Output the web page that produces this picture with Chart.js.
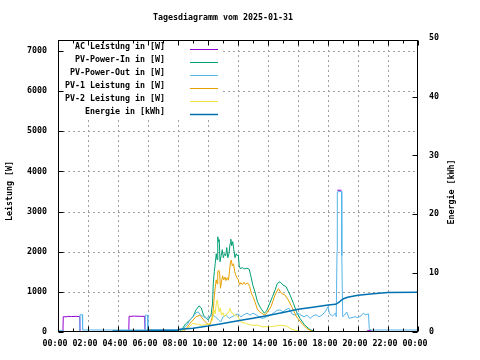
<!DOCTYPE html>
<html><head><meta charset="utf-8">
<script src="https://cdn.jsdelivr.net/npm/chart.js@4/dist/chart.umd.min.js"></script>
<style>html,body{margin:0;padding:0;background:#fff}canvas{display:block}</style>
</head><body>
<canvas id="c" width="480" height="360" style="width:480px;height:360px"></canvas>
<script>
// ---- texts ----
const chartTitle = 'Tagesdiagramm vom 2025-01-31';
const yTitle = 'Leistung [W]';
const y2Title = 'Energie [kWh]';
const seriesLabels = ['AC Leistung in [W]','PV-Power-In in [W]','PV-Power-Out in [W]','PV-1 Leistung in [W]','PV-2 Leistung in [W]','Energie in [kWh]'];
const seriesColors = ['#9400D3','#009E73','#56B4E9','#E69F00','#F0E442','#0072B2'];

// ---- ticks ----
const xTickHours = [0,2,4,6,8,10,12,14,16,18,20,22,24];
const xMinorHours = [1,3,5,7,9,11,13,15,17,19,21,23];
const yTickValues = [0,1000,2000,3000,4000,5000,6000,7000];
const y2TickValues = [0,10,20,30,40,50];

// ---- data (time in hours); AC is null where it lies under PV-Power-Out ----
const acTimes  = [0,0.33,0.35,0.6,0.62,0.9,1.2,1.45,1.47,1.5,4.7,4.72,4.74,5.1,5.5,5.78,5.8,5.83,18.6,18.62,18.9,18.92,20.6,20.62,20.9,20.92];
const acValues = [null,0,380,380,390,385,390,385,0,null,null,40,390,395,390,390,40,null,null,3530,3530,null,null,40,40,null];

const outTimes  = [0,0.33,0.35,1.45,1.47,1.62,1.64,5.8,5.82,5.97,5.99,7.95,8.0,8.2,8.4,8.6,8.8,9.0,9.2,9.35,9.5,9.7,9.9,10.1,10.3,10.5,10.7,10.85,11.0,11.2,11.4,11.6,11.8,12.0,12.2,12.4,12.6,12.8,13.0,13.2,13.4,13.6,13.8,14.0,14.2,14.4,14.6,14.8,15.0,15.2,15.4,15.6,15.8,16.0,16.2,16.4,16.6,16.8,17.0,17.2,17.4,17.6,17.8,18.0,18.1,18.3,18.5,18.55,18.6,18.62,18.9,18.92,18.98,19.1,19.25,19.4,19.6,19.8,20.0,20.2,20.35,20.5,20.7,20.75,20.8,24];
const outValues = [40,40,0,0,430,430,50,50,420,420,50,50,0,0,100,170,300,380,480,500,420,380,340,380,420,380,300,250,380,420,340,380,420,450,380,430,470,420,470,430,380,340,360,400,430,480,540,550,500,560,590,450,420,470,420,380,420,340,400,430,380,420,500,630,450,400,470,380,2000,3490,3500,1900,380,420,500,340,360,380,360,400,470,430,450,90,50,50];

const inTimes  = [0,8.1,8.3,8.5,8.8,9.0,9.2,9.4,9.55,9.7,9.85,10.0,10.2,10.3,10.35,10.42,10.48,10.55,10.6,10.65,10.7,10.75,10.8,10.88,10.95,11.02,11.1,11.18,11.25,11.32,11.4,11.47,11.52,11.58,11.65,11.72,11.8,11.88,11.95,12.02,12.08,12.15,12.3,12.45,12.6,12.75,12.85,13.0,13.13,13.3,13.5,13.75,13.9,14.1,14.3,14.47,14.62,14.8,15.0,15.2,15.47,15.7,15.9,16.13,16.45,16.8,17.2,24];
const inValues = [0,0,90,200,300,380,550,650,600,420,360,300,420,700,1200,1500,1700,1950,1800,2370,2250,2300,1750,1900,2050,1850,1950,1900,2100,1850,1950,2200,2310,2150,2250,2050,1850,1950,1900,1920,1650,1580,1600,1570,1590,1560,1400,1150,1000,750,600,470,520,700,880,1040,1210,1250,1170,1130,920,710,500,340,170,60,0,0];

const pv1Times  = [0,8.3,8.5,8.8,9.2,9.47,9.6,9.8,10.0,10.13,10.3,10.36,10.42,10.5,10.55,10.6,10.65,10.72,10.78,10.83,10.9,10.97,11.05,11.13,11.2,11.28,11.36,11.43,11.5,11.55,11.62,11.7,11.78,11.85,11.93,12.02,12.1,12.2,12.3,12.4,12.5,12.6,12.7,12.78,12.9,13.0,13.13,13.3,13.55,13.8,14.0,14.2,14.47,14.69,14.9,15.13,15.35,15.58,15.9,16.25,16.58,17.02,24];
const pv1Values = [0,0,60,215,380,420,350,255,190,170,400,590,900,1170,1300,1200,1500,1540,1450,1090,1250,1400,1300,1370,1280,1350,1290,1500,1750,1790,1650,1700,1500,1420,1350,1300,1170,1230,1180,1240,1180,1220,1200,1130,950,880,750,560,470,420,520,630,920,1080,960,920,800,630,380,215,90,0,0];

const pv2Times  = [0,8.13,8.4,8.6,8.8,9.0,9.3,9.6,10.0,10.13,10.3,10.4,10.48,10.55,10.62,10.68,10.75,10.82,10.9,11.0,11.1,11.2,11.3,11.4,11.47,11.55,11.65,11.75,11.85,12.0,12.1,12.2,12.5,12.9,13.3,13.6,14.1,14.5,14.8,15.2,15.6,16.0,16.4,24];
const pv2Values = [0,0,50,90,150,215,190,170,190,215,300,550,450,700,800,650,500,600,420,480,380,430,450,520,590,480,470,400,430,380,300,255,215,170,170,130,130,150,170,150,65,25,0,0];

const energyTimes  = [0,1.47,3.67,3.69,5.93,5.95,7.95,8.13,9.0,10.0,11.0,12.0,13.0,14.0,15.0,16.0,17.0,18.0,18.5,18.7,19.0,19.3,20.0,21.0,22.0,24];
const energyValues = [0,0,0,0.15,0.15,0.3,0.3,0.45,0.65,1.0,1.45,1.9,2.35,2.8,3.3,3.85,4.2,4.6,4.7,5.0,5.6,5.9,6.25,6.5,6.7,6.75];

const FAMILY = '"DejaVu Sans Mono", "Liberation Mono", monospace';
const FONT = 'bold 8.3px ' + FAMILY;
const TICKFONT = {family: FAMILY, size: 8.3, weight: 'bold'};
const pts = (t, v) => t.map((h, i) => ({x: h, y: v[i]}));
const pad2 = n => (n < 10 ? '0' : '') + n;

const series = [
  {t: acTimes, v: acValues, axis: 'y', w: 1},
  {t: inTimes, v: inValues, axis: 'y', w: 1},
  {t: outTimes, v: outValues, axis: 'y', w: 1},
  {t: pv1Times, v: pv1Values, axis: 'y', w: 1},
  {t: pv2Times, v: pv2Values, axis: 'y', w: 1},
  {t: energyTimes, v: energyValues, axis: 'y2', w: 1.5}
];

const decor = {
  id: 'decor',
  beforeDatasetsDraw(chart) {
    const {ctx, chartArea: a, scales: {x, y}} = chart;
    ctx.save();
    ctx.strokeStyle = '#a0a0a0'; ctx.lineWidth = 1; ctx.setLineDash([2, 3]);
    xTickHours.slice(1, -1).forEach(h => {
      const px = Math.round(x.getPixelForValue(h)) + 0.5;
      ctx.beginPath(); ctx.moveTo(px, a.top); ctx.lineTo(px, a.bottom); ctx.stroke();
    });
    yTickValues.slice(1).forEach(v => {
      const py = Math.round(y.getPixelForValue(v)) + 0.5;
      ctx.beginPath(); ctx.moveTo(a.left, py); ctx.lineTo(a.right, py); ctx.stroke();
    });
    ctx.setLineDash([]);
    // opaque key box
    ctx.fillStyle = '#fff';
    ctx.fillRect(a.left + 1, a.top + 1, 164, 79);
    ctx.restore();
  },
  afterDraw(chart) {
    const {ctx, chartArea: a, scales: {x, y, y2}} = chart;
    ctx.save();
    ctx.strokeStyle = '#000'; ctx.lineWidth = 1;
    const L = Math.round(a.left) + 0.5, R = Math.round(a.right) - 0.5;
    const T = Math.round(a.top) + 0.5, B = Math.round(a.bottom) - 0.5;
    ctx.strokeRect(L, T, R - L, B - T);
    ctx.beginPath();
    xTickHours.forEach(h => {
      const px = Math.round(x.getPixelForValue(h)) + 0.5;
      ctx.moveTo(px, B); ctx.lineTo(px, B - 5);
      ctx.moveTo(px, T); ctx.lineTo(px, T + 5);
    });
    xMinorHours.forEach(h => {
      const px = Math.round(x.getPixelForValue(h)) + 0.5;
      ctx.moveTo(px, B); ctx.lineTo(px, B - 3);
      ctx.moveTo(px, T); ctx.lineTo(px, T + 3);
    });
    yTickValues.forEach(v => {
      const py = Math.round(y.getPixelForValue(v)) + 0.5;
      ctx.moveTo(L, py); ctx.lineTo(L + 5, py);
    });
    y2TickValues.forEach(v => {
      const py = Math.round(y2.getPixelForValue(v)) + 0.5;
      if (py > T) { ctx.moveTo(R, py); ctx.lineTo(R - 5, py); }
    });
    ctx.stroke();

    ctx.fillStyle = '#000';
    ctx.font = FONT;
    ctx.textBaseline = 'middle';
    ctx.textAlign = 'center';
    ctx.fillText(chartTitle, 223, 18);
    ctx.save(); ctx.translate(10, 191); ctx.rotate(-Math.PI / 2); ctx.fillText(yTitle, 0, 0); ctx.restore();
    ctx.save(); ctx.translate(452, 192); ctx.rotate(-Math.PI / 2); ctx.fillText(y2Title, 0, 0); ctx.restore();

    // key
    seriesLabels.forEach((lab, i) => {
      const ly = 49 + 13 * i;
      ctx.fillStyle = '#000';
      ctx.textAlign = 'right';
      ctx.fillText(lab, 165, ly - 2);
      ctx.strokeStyle = seriesColors[i];
      ctx.lineWidth = i === 5 ? 1.5 : 1;
      ctx.beginPath(); ctx.moveTo(190, ly + 0.5); ctx.lineTo(218, ly + 0.5); ctx.stroke();
    });
    ctx.restore();
  }
};

new Chart(document.getElementById('c'), {
  type: 'line',
  data: {
    datasets: series.map((s, i) => ({
      label: seriesLabels[i],
      data: pts(s.t, s.v),
      yAxisID: s.axis,
      borderColor: seriesColors[i],
      backgroundColor: seriesColors[i],
      borderWidth: s.w,
      pointRadius: 0,
      tension: 0,
      fill: false,
      spanGaps: false,
      order: 6 - i
    }))
  },
  options: {
    responsive: false,
    animation: false,
    devicePixelRatio: 1,
    layout: {padding: {top: 40, left: 0, right: 0, bottom: 0}},
    plugins: {legend: {display: false}, title: {display: false}, tooltip: {enabled: false}},
    scales: {
      x: {
        type: 'linear', min: 0, max: 24,
        afterBuildTicks: s => { s.ticks = xTickHours.map(v => ({value: v})); },
        afterFit: s => { s.height = 28; },
        grid: {display: false, drawTicks: false},
        border: {display: false},
        ticks: {
          font: TICKFONT, color: '#000', padding: 7, labelOffset: -3, maxRotation: 0, autoSkip: false,
          callback: v => pad2(v % 24) + ':00'
        }
      },
      y: {
        position: 'left', min: 0, max: 7270,
        afterBuildTicks: s => { s.ticks = yTickValues.map(v => ({value: v})); },
        afterFit: s => { s.width = 58; },
        grid: {display: false, drawTicks: false},
        border: {display: false},
        ticks: {font: TICKFONT, color: '#000', padding: 11, callback: v => String(v)}
      },
      y2: {
        position: 'right', min: 0, max: 49.6,
        afterBuildTicks: s => { s.ticks = y2TickValues.map(v => ({value: v})); },
        afterFit: s => { s.width = 62; },
        grid: {display: false, drawTicks: false},
        border: {display: false},
        ticks: {font: TICKFONT, color: '#000', padding: 11, callback: v => String(v)}
      }
    }
  },
  plugins: [decor]
});
</script>
</body></html>
